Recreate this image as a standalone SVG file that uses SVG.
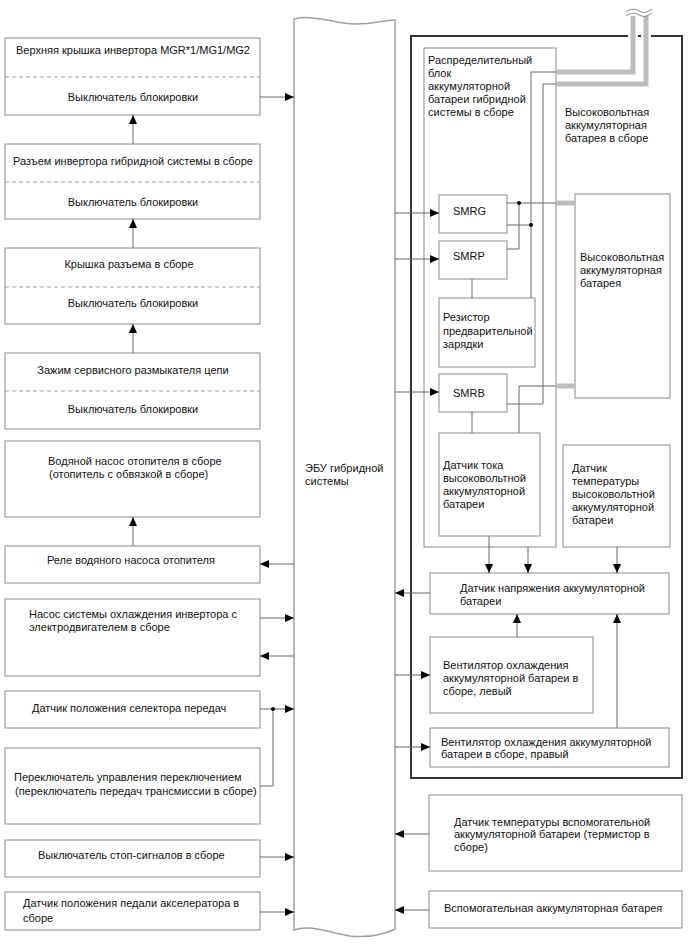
<svg xmlns="http://www.w3.org/2000/svg" width="688" height="949" viewBox="0 0 688 949">
<style>
text{font-family:"Liberation Sans",Arial,sans-serif;font-size:11px;fill:#111}
.c{text-anchor:middle}
.box{fill:#fff;stroke:#8a8a8a;stroke-width:1}
.dash{stroke:#9a9a9a;stroke-width:1;stroke-dasharray:4,3;fill:none}
.ln{stroke:#666;stroke-width:1;fill:none}
.ar{stroke:#666;stroke-width:1;fill:none;marker-end:url(#ah)}
.thick{stroke:#bdbdbd;stroke-width:5;fill:none}
</style>
<defs>
<marker id="ah" markerUnits="userSpaceOnUse" markerWidth="9" markerHeight="8" refX="9" refY="4" orient="auto">
<path d="M0,0 L9,4 L0,8 Z" fill="#000"/>
</marker>
</defs>
<rect width="688" height="949" fill="#fff"/>

<g id="ecu">
<path d="M294,19 C315,14 335,24 355,24 C375,24 385,20 395,20 L395,929 C385,934 370,938 350,936 C330,933 310,924 294,930 Z" fill="#fff" stroke="#a0a0a0" stroke-width="1.5"/>
<text x="305" y="472">ЭБУ гибридной</text>
<text x="305" y="485">системы</text>
</g>

<g id="n1"><rect class="box" x="5" y="38" width="255" height="77"/><line class="dash" x1="5" y1="77" x2="260" y2="77"/>
<text class="c" x="133" y="54">Верхняя крышка инвертора MGR*1/MG1/MG2</text><text class="c" x="133" y="101">Выключатель блокировки</text></g>
<g id="n2"><rect class="box" x="5" y="144" width="255" height="75"/><line class="dash" x1="5" y1="182" x2="260" y2="182"/>
<text class="c" x="133" y="165">Разъем инвертора гибридной системы в сборе</text><text class="c" x="133" y="206">Выключатель блокировки</text></g>
<g id="n3"><rect class="box" x="5" y="248" width="255" height="76"/><line class="dash" x1="5" y1="287" x2="260" y2="287"/>
<text class="c" x="129" y="268">Крышка разъема в сборе</text><text class="c" x="133" y="307">Выключатель блокировки</text></g>
<g id="n4"><rect class="box" x="5" y="353" width="255" height="76"/><line class="dash" x1="5" y1="391" x2="260" y2="391"/>
<text class="c" x="133" y="374">Зажим сервисного размыкателя цепи</text><text class="c" x="133" y="413">Выключатель блокировки</text></g>
<g id="n5"><rect class="box" x="5" y="441" width="255" height="76"/>
<text x="48" y="465">Водяной насос отопителя в сборе</text><text x="49" y="478">(отопитель с обвязкой в сборе)</text></g>
<g id="n6"><rect class="box" x="5" y="546" width="255" height="37"/>
<text x="47" y="564">Реле водяного насоса отопителя</text></g>
<g id="n7"><rect class="box" x="5" y="599" width="255" height="77"/>
<text x="29" y="618">Насос системы охлаждения инвертора с</text><text x="29" y="631">электродвигателем в сборе</text></g>
<g id="n8"><rect class="box" x="5" y="691" width="255" height="37"/>
<text x="32" y="712">Датчик положения селектора передач</text></g>
<g id="n9"><rect class="box" x="5" y="748" width="255" height="76"/>
<text x="14" y="781">Переключатель управления переключением</text><text x="15" y="795">(переключатель передач трансмиссии в сборе)</text></g>
<g id="n10"><rect class="box" x="5" y="840" width="255" height="37"/>
<text x="38" y="859">Выключатель стоп-сигналов в сборе</text></g>
<g id="n11"><rect class="box" x="5" y="892" width="255" height="38"/>
<text x="23" y="907">Датчик положения педали акселератора в</text><text x="23" y="922">сборе</text></g>

<g id="hv-assembly">
<rect x="411" y="36" width="271" height="742" fill="none" stroke="#333" stroke-width="2"/>
<text x="565" y="116">Высоковольтная</text><text x="565" y="129">аккумуляторная</text><text x="565" y="142">батарея в сборе</text>
</g>
<g id="dist-block">
<rect class="box" x="424" y="48" width="132" height="499"/>
<text x="428" y="64">Распределительный</text><text x="428" y="77">блок</text><text x="428" y="90">аккумуляторной</text><text x="428" y="103">батареи гибридной</text><text x="428" y="116">системы в сборе</text>
</g>
<g id="smrg"><rect class="box" x="439" y="195" width="68" height="38"/><text x="453" y="215">SMRG</text></g>
<g id="smrp"><rect class="box" x="439" y="241" width="68" height="38"/><text x="453" y="260">SMRP</text></g>
<g id="resistor"><rect class="box" x="439" y="298" width="96" height="69"/>
<text x="443" y="321">Резистор</text><text x="443" y="335">предварительной</text><text x="443" y="348">зарядки</text></g>
<g id="smrb"><rect class="box" x="439" y="374" width="68" height="38"/><text x="453" y="397">SMRB</text></g>
<g id="hv-battery"><rect class="box" x="575" y="194" width="95" height="204"/>
<text x="580" y="261">Высоковольтная</text><text x="580" y="274">аккумуляторная</text><text x="580" y="287">батарея</text></g>
<g id="current-sensor"><rect class="box" x="439" y="433" width="101" height="103"/>
<text x="443" y="469">Датчик тока</text><text x="443" y="482">высоковольтной</text><text x="443" y="495">аккумуляторной</text><text x="443" y="508">батареи</text></g>
<g id="temp-sensor"><rect class="box" x="563" y="445" width="107" height="102"/>
<text x="572" y="472">Датчик</text><text x="572" y="485">температуры</text><text x="572" y="498">высоковольтной</text><text x="572" y="511">аккумуляторной</text><text x="572" y="524">батареи</text></g>
<g id="voltage-sensor"><rect class="box" x="430" y="573" width="239" height="41"/>
<text x="460" y="592">Датчик напряжения аккумуляторной</text><text x="460" y="605">батареи</text></g>
<g id="fan-left"><rect class="box" x="430" y="637" width="163" height="76"/>
<text x="443" y="669">Вентилятор охлаждения</text><text x="443" y="682">аккумуляторной батареи в</text><text x="443" y="695">сборе, левый</text></g>
<g id="fan-right"><rect class="box" x="430" y="728" width="239" height="39"/>
<text x="441" y="746">Вентилятор охлаждения аккумуляторной</text><text x="441" y="758">батареи в сборе, правый</text></g>
<g id="aux-temp"><rect class="box" x="429" y="795" width="253" height="76"/>
<text x="454" y="826">Датчик температуры вспомогательной</text><text x="454" y="838">аккумуляторной батареи (термистор в</text><text x="454" y="851">сборе)</text></g>
<g id="aux-battery"><rect class="box" x="429" y="891" width="253" height="37"/>
<text x="444" y="912">Вспомогательная аккумуляторная батарея</text></g>

<g id="connectors">
<line class="ar" x1="260" y1="97" x2="294" y2="97"/>
<line class="ar" x1="133" y1="144" x2="133" y2="115"/>
<line class="ar" x1="133" y1="248" x2="133" y2="219"/>
<line class="ar" x1="133" y1="353" x2="133" y2="324"/>
<line class="ar" x1="133" y1="546" x2="133" y2="517"/>
<line class="ar" x1="294" y1="564" x2="260" y2="564"/>
<line class="ar" x1="260" y1="618" x2="294" y2="618"/>
<line class="ar" x1="294" y1="656" x2="260" y2="656"/>
<line class="ar" x1="260" y1="709" x2="294" y2="709"/>
<path class="ln" d="M260,786 H273 V709"/>
<circle cx="273" cy="709" r="2" fill="#000"/>
<line class="ar" x1="260" y1="857" x2="294" y2="857"/>
<line class="ar" x1="260" y1="912" x2="294" y2="912"/>

<line class="ar" x1="395" y1="213" x2="439" y2="213"/>
<line class="ar" x1="395" y1="259" x2="439" y2="259"/>
<line class="ar" x1="395" y1="392" x2="439" y2="392"/>
<line class="ar" x1="430" y1="593" x2="395" y2="593"/>
<line class="ar" x1="395" y1="675" x2="430" y2="675"/>
<line class="ar" x1="395" y1="747" x2="430" y2="747"/>
<line class="ar" x1="429" y1="834" x2="395" y2="834"/>
<line class="ar" x1="429" y1="910" x2="395" y2="910"/>

<path class="ln" d="M507,203 H556"/>
<path class="ln" d="M507,249 H519 V203"/>
<path class="ln" d="M507,225 H531"/>
<path class="ln" d="M556,72 H531 V298"/>
<path class="ln" d="M556,84 H543 V404 H507"/>
<path class="ln" d="M472,279 V298"/>
<path class="ln" d="M472,412 V433"/>
<path class="ln" d="M556,386 H519 V433"/>
<circle cx="519" cy="203" r="2" fill="#000"/>
<circle cx="531" cy="225" r="2" fill="#000"/>

<path d="M633,30 V42 M646,30 V42" stroke="#fff" stroke-width="10" fill="none"/>
<path class="thick" d="M556,203 H575"/>
<path class="thick" d="M556,386 H575"/>
<path class="thick" d="M556,72 H633 V16"/>
<path class="thick" d="M556,84 H646 V16"/>
<path d="M626,12 C631,8 636,9 639,11 C643,13 647,13 652,9" stroke="#888" stroke-width="1" fill="none"/>
<path d="M626,16 C631,12 636,13 639,15 C643,17 647,17 652,13" stroke="#888" stroke-width="1" fill="none"/>

<line class="ar" x1="489" y1="536" x2="489" y2="573"/>
<line class="ar" x1="528" y1="547" x2="528" y2="573"/>
<line class="ar" x1="617" y1="547" x2="617" y2="573"/>
<line class="ar" x1="517" y1="637" x2="517" y2="614"/>
<line class="ar" x1="617" y1="728" x2="617" y2="614"/>
</g>
</svg>
